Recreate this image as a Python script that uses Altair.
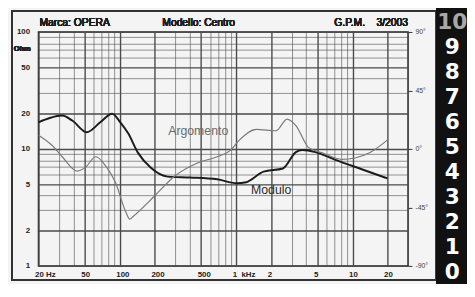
import altair as alt
import pandas as pd

# ---- data ----
mod_freq = [20, 25, 32, 39, 52, 68, 86, 101, 118, 143, 185, 258, 404, 686, 1010, 1220, 1720, 2520, 3260, 3690, 4810, 7040, 12000, 20000]
mod_ohm = [16.9, 18.4, 19.3, 17.5, 13.9, 16.9, 20.0, 16.9, 13.6, 9.3, 6.9, 5.8, 5.7, 5.5, 5.1, 5.2, 6.4, 6.8, 9.4, 9.8, 9.4, 8.1, 6.7, 5.6]

arg_freq = [20, 26, 32, 43, 51, 62, 77, 92, 112, 122, 130, 200, 295, 461, 686, 880, 1070, 1490, 2200, 2740, 3260, 4200, 5500, 8090, 10500, 14000, 20000]
arg_deg = [10.6, 3, -6, -17, -14, -6, -14, -26, -48, -54, -52, -36, -21, -11, -6, -1.5, 7, 15, 14, 23, 18, 1, -3, -8, -7, -3, 7]

x_grid = [20, 30, 40, 50, 60, 70, 80, 90, 100, 200, 300, 400, 500, 600, 700, 800, 900,
          1000, 2000, 3000, 4000, 5000, 6000, 7000, 8000, 9000, 10000, 20000, 30000]
x_labels = {20: "20 Hz", 50: "50", 100: "100", 200: "200", 500: "500",
            1000: "1\u00a0\u00a0kHz", 2000: "2", 5000: "5", 10000: "10", 20000: "20"}
y_grid = [1, 2, 3, 4, 5, 6, 7, 8, 9, 10, 20, 30, 40, 50, 60, 70, 80, 90, 100]
y_labels = {1: "1", 2: "2", 5: "5", 10: "10", 20: "20", 50: "50", 100: "100"}
phase_ticks = [-90, -45, 0, 45, 90]

curve_names = ["Argomento", "Modulo"]
curve_label_freq = [472, 2000]
curve_label_ohm = [14.2, 4.43]

header_texts = ["Marca: OPERA", "Modello: Centro", "G.P.M.", "3/2003"]
strip_digits = [10, 9, 8, 7, 6, 5, 4, 3, 2, 1, 0]

FONT = "Liberation Sans"
W, H = 376, 238


def expr_from(d):
    e = "''"
    for k, v in reversed(list(d.items())):
        e = f"datum.value == {k} ? '{v}' : ({e})"
    return e


df_mod = pd.DataFrame({"f": mod_freq, "z": mod_ohm})
df_arg = pd.DataFrame({"f": arg_freq, "p": arg_deg})
df_lab = pd.DataFrame({"name": curve_names, "f": curve_label_freq, "z": curve_label_ohm})
df_digits = pd.DataFrame({"d": strip_digits})

xscale = alt.Scale(type="log", domain=[20, 30000], nice=False)
yscale = alt.Scale(type="log", domain=[1, 100], nice=False)
pscale = alt.Scale(domain=[-90, 90], nice=False)

x_major = "indexof([20,50,100,200,500,1000,2000,5000,10000,20000], datum.value) >= 0"
y_major = "indexof([2,5,10,20,50], datum.value) >= 0"

mod = alt.Chart(df_mod).mark_line(color="#1c1c1c", strokeWidth=2.0, interpolate="monotone").encode(
    x=alt.X("f:Q", scale=xscale, title=None,
            axis=alt.Axis(values=x_grid, labelExpr=expr_from(x_labels), grid=True,
                          gridColor="#4a4a4a",
                          gridWidth={"condition": {"test": x_major, "value": 1.4}, "value": 0.6},
                          ticks=False, domain=False, labelFont=FONT, labelFontSize=8,
                          labelFontWeight="bold", labelColor="#222", labelAlign="left",
                          labelOffset=-4, labelPadding=5, labelFlush=False, labelOverlap=False)),
    y=alt.Y("z:Q", scale=yscale, title=None,
            axis=alt.Axis(orient="left", values=y_grid, labelExpr=expr_from(y_labels), grid=True,
                          gridColor="#4a4a4a",
                          gridWidth={"condition": {"test": y_major, "value": 1.4}, "value": 0.6},
                          ticks=False, domain=False, labelFont=FONT, labelFontSize=8,
                          labelFontWeight="bold", labelColor="#222", labelPadding=9,
                          labelFlush=False, labelOverlap=False)),
)

labels = alt.Chart(df_lab).mark_text(font=FONT, fontSize=12.5, align="center", baseline="middle").encode(
    x=alt.X("f:Q", scale=xscale),
    y=alt.Y("z:Q", scale=yscale),
    text="name:N",
    color=alt.condition("datum.name == 'Modulo'", alt.value("#2a2a2a"), alt.value("#6a6a6a")),
)

left_group = alt.layer(mod, labels)

arg = alt.Chart(df_arg).mark_line(color="#7a7a7a", strokeWidth=1.2, interpolate="monotone").encode(
    x=alt.X("f:Q", scale=xscale),
    y=alt.Y("p:Q", scale=pscale, title=None,
            axis=alt.Axis(orient="right", values=phase_ticks, labelExpr="datum.value + '°'",
                          grid=False, domain=False, ticks=True, tickSize=4, tickColor="#333",
                          labelFont=FONT, labelFontSize=7, labelColor="#444", labelPadding=3,
                          labelFlush=False)),
)

# decorations
frame = alt.Chart(df_digits).mark_rect(fill=None, stroke="#333", strokeWidth=1.5).encode(
    x=alt.value(-27), x2=alt.value(405), y=alt.value(-21), y2=alt.value(252))
strip = alt.Chart(df_digits).mark_rect(color="#111").encode(
    x=alt.value(405), x2=alt.value(440), y=alt.value(-25), y2=alt.value(270))
digits = alt.Chart(df_digits).mark_text(font="DejaVu Sans", fontSize=22, fontWeight="bold",
                                        align="center", baseline="middle").encode(
    x=alt.value(421),
    y=alt.Y("d:Q", scale=alt.Scale(domain=[0, 10], range=[244, -10]), axis=None),
    text="d:N",
    color=alt.condition("datum.d == 10", alt.value("#a8a8a8"), alt.value("#ffffff")),
)

ohm = alt.Chart(df_digits).mark_text(font=FONT, fontSize=7.5, fontWeight="bold", color="#222",
                                     align="right", baseline="middle").encode(
    x=alt.value(-8), y=alt.value(17), text=alt.value("Ohm"))

hdr_style = dict(font=FONT, fontSize=10.5, color="#1e1e1e", baseline="alphabetic")
h1 = alt.Chart(df_digits).mark_text(align="left", **hdr_style).encode(
    x=alt.value(1), y=alt.value(-6), text=alt.value(header_texts[0]))
h2 = alt.Chart(df_digits).mark_text(align="left", **hdr_style).encode(
    x=alt.value(126), y=alt.value(-6), text=alt.value(header_texts[1]))
h3 = alt.Chart(df_digits).mark_text(align="left", **hdr_style).encode(
    x=alt.value(301), y=alt.value(-6), text=alt.value(header_texts[2]))
h4 = alt.Chart(df_digits).mark_text(align="right", **hdr_style).encode(
    x=alt.value(376), y=alt.value(-6), text=alt.value(header_texts[3]))

chart = alt.layer(
    left_group, arg, frame, strip, digits, ohm, h1, h2, h3, h4
).resolve_scale(y="independent").properties(
    width=W, height=H,
    autosize=alt.AutoSizeParams(type="none"),
    padding={"left": 31, "top": 22, "right": 60, "bottom": 16},
    background="#f4f4f4",
).configure_view(stroke="#222", strokeWidth=1.5)

chart.save("out.html", embed_options={"renderer": "svg", "actions": False})
